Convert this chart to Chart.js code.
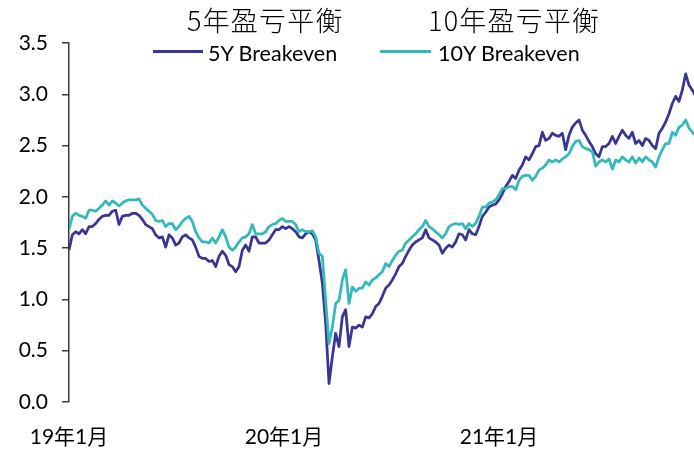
<!DOCTYPE html>
<html>
<head>
<meta charset="utf-8">
<script src="https://cdn.jsdelivr.net/npm/chart.js@4.4.1/dist/chart.umd.min.js"></script>
<style>
  html, body { margin: 0; padding: 0; background: #fff; }
  #wrap { position: relative; width: 694px; height: 452px; overflow: hidden; }
  #wrap canvas { position: absolute; left: 0; top: 0; }
  .cn { position: absolute; top: 5px; font-family: "Noto Sans CJK SC"; font-weight: 300; font-size: 27px; line-height: 30px; letter-spacing: 1.2px; color: #000; white-space: nowrap; }
  .lg { position: absolute; top: 40px; font-family: Lato, "Noto Sans"; font-size: 21.5px; line-height: 26px; color: #000; white-space: nowrap; }
  .sw { position: absolute; height: 3px; }
</style>
</head>
<body>
<div id="wrap">
  <canvas id="c" width="694" height="452"></canvas>
</div>
<script>
// ---- data ----
const startYear = 2019;
const samplesPerYear = 64.5;            // equally spaced samples (~5.7 days apart)
const xTickLabels = ['19年1月', '20年1月', '21年1月'];
const seriesNames = ['5Y Breakeven', '10Y Breakeven'];
const seriesNamesCn = ['5年盈亏平衡', '10年盈亏平衡'];
const seriesColors = ['#393594', '#33B9BA'];

const be5y = [
  1.48,1.63,1.66,1.64,1.68,1.64,1.71,1.71,1.74,1.78,1.81,1.82,1.82,1.86,1.87,1.73,1.81,1.82,1.82,1.84,
  1.84,1.82,1.78,1.73,1.71,1.69,1.63,1.60,1.61,1.51,1.63,1.60,1.53,1.55,1.61,1.63,1.60,1.58,1.51,1.42,
  1.40,1.40,1.37,1.38,1.32,1.42,1.47,1.43,1.34,
  1.32,1.27,1.32,1.48,1.53,1.47,1.61,1.61,1.55,1.55,1.55,1.58,1.63,1.68,1.68,1.71,1.69,1.71,1.69,1.66,
  1.61,1.60,1.64,1.66,1.64,1.58,1.38,1.16,0.77,0.18,0.44,0.67,0.54,0.83,0.90,0.54,0.73,0.72,0.75,0.73,
  0.83,0.82,0.86,0.93,0.96,1.03,1.11,1.14,
  1.19,1.25,1.32,1.35,1.42,1.48,1.53,1.56,1.58,1.60,1.68,1.60,1.58,1.56,1.53,1.45,1.50,1.53,1.51,1.56,
  1.64,1.63,1.58,1.68,1.64,1.63,1.71,1.81,1.85,1.90,1.92,1.93,1.97,2.03,2.10,2.15,2.21,2.18,2.26,2.31,
  2.39,2.36,2.42,2.49,2.50,2.63,2.55,2.57,
  2.62,2.60,2.59,2.62,2.46,2.60,2.68,2.72,2.75,2.65,2.60,2.54,2.49,2.42,2.39,2.49,2.49,2.52,2.59,2.52,
  2.59,2.65,2.60,2.57,2.63,2.52,2.55,2.50,2.57,2.55,2.50,2.47,2.62,2.67,2.73,2.81,2.91,2.98,2.93,3.04,
  3.20,3.09,3.04,2.98
];

const be10y = [
  1.68,1.81,1.84,1.82,1.81,1.79,1.87,1.87,1.86,1.89,1.92,1.96,1.92,1.96,1.94,1.91,1.94,1.96,1.97,1.97,
  1.97,1.98,1.92,1.89,1.86,1.83,1.77,1.76,1.77,1.71,1.74,1.74,1.68,1.71,1.76,1.79,1.81,1.76,1.66,1.60,
  1.56,1.56,1.55,1.60,1.55,1.61,1.68,1.61,1.51,
  1.48,1.51,1.56,1.60,1.61,1.64,1.73,1.64,1.64,1.64,1.66,1.71,1.73,1.74,1.77,1.79,1.76,1.76,1.76,1.73,
  1.66,1.68,1.66,1.66,1.67,1.61,1.45,1.42,0.99,0.57,0.73,0.96,0.99,1.19,1.29,0.96,1.12,1.08,1.11,1.11,
  1.17,1.14,1.19,1.21,1.24,1.27,1.35,1.32,
  1.38,1.43,1.47,1.48,1.55,1.58,1.61,1.64,1.68,1.71,1.77,1.71,1.69,1.66,1.63,1.60,1.64,1.71,1.73,1.74,
  1.73,1.74,1.69,1.74,1.71,1.74,1.81,1.90,1.90,1.94,1.95,1.97,2.02,2.08,2.08,2.10,2.10,2.07,2.16,2.20,
  2.21,2.21,2.16,2.20,2.26,2.28,2.31,2.36,
  2.34,2.36,2.34,2.37,2.39,2.42,2.49,2.54,2.55,2.49,2.47,2.46,2.44,2.30,2.34,2.36,2.34,2.37,2.27,2.36,
  2.34,2.39,2.36,2.34,2.39,2.33,2.38,2.34,2.39,2.36,2.34,2.29,2.39,2.46,2.52,2.52,2.63,2.60,2.68,2.70,
  2.75,2.67,2.63,2.60
];

const yTickMin = 0, yTickMax = 3.5, yTickStep = 0.5;

// ---- legend (HTML text) ----
const wrap = document.getElementById('wrap');
const legendLayout = [
  { cnLeft: 187, swLeft: 153, swTop: 50, swWidth: 50, txtLeft: 208 },
  { cnLeft: 428, swLeft: 380, swTop: 50, swWidth: 51, txtLeft: 438 }
];
legendLayout.forEach((p, i) => {
  const cn = document.createElement('div');
  cn.className = 'cn'; cn.style.left = p.cnLeft + 'px'; cn.textContent = seriesNamesCn[i];
  wrap.appendChild(cn);
  const sw = document.createElement('div');
  sw.className = 'sw'; sw.style.left = p.swLeft + 'px'; sw.style.top = p.swTop + 'px';
  sw.style.width = p.swWidth + 'px'; sw.style.background = seriesColors[i];
  wrap.appendChild(sw);
  const t = document.createElement('div');
  t.className = 'lg'; t.style.left = p.txtLeft + 'px'; t.textContent = seriesNames[i];
  wrap.appendChild(t);
});

// ---- chart ----
const toPoints = arr => arr.map((v, i) => ({ x: startYear + i / samplesPerYear, y: v }));
const xMax = startYear + (be5y.length - 1.5) / samplesPerYear;
const axisColor = '#3a3a3a';
const tickFont = { family: 'Lato, "Noto Sans CJK SC"', size: 21 };

new Chart(document.getElementById('c'), {
  type: 'line',
  data: {
    datasets: [
      { label: seriesNames[0], data: toPoints(be5y), borderColor: seriesColors[0], backgroundColor: seriesColors[0],
        borderWidth: 2.75, pointRadius: 0, tension: 0, order: 1, borderJoinStyle: 'round' },
      { label: seriesNames[1], data: toPoints(be10y), borderColor: seriesColors[1], backgroundColor: seriesColors[1],
        borderWidth: 2.75, pointRadius: 0, tension: 0, order: 0, borderJoinStyle: 'round' }
    ]
  },
  options: {
    responsive: false,
    animation: false,
    devicePixelRatio: 1,
    layout: { padding: { top: 43, left: 0, right: 0, bottom: 0 } },
    plugins: { legend: { display: false }, tooltip: { enabled: false } },
    scales: {
      x: {
        type: 'linear',
        min: startYear,
        max: xMax,
        grid: { display: false, drawTicks: false },
        border: { display: false },
        ticks: {
          stepSize: 1,
          includeBounds: false,
          autoSkip: false,
          maxRotation: 0,
          padding: 23,
          color: '#000',
          font: tickFont,
          callback: v => {
            const idx = Math.round(v) - startYear;
            return (Math.abs(v - Math.round(v)) < 1e-6 && xTickLabels[idx]) ? xTickLabels[idx] : '';
          }
        },
        afterFit: s => { s.height = 50; }
      },
      y: {
        min: yTickMin,
        max: yTickMax,
        grid: { display: true, drawOnChartArea: false, drawTicks: true, tickLength: 7, color: axisColor, lineWidth: 1.5 },
        border: { display: true, color: axisColor, width: 1.5 },
        ticks: {
          stepSize: yTickStep,
          padding: 14,
          color: '#000',
          font: tickFont,
          callback: v => Number(v).toFixed(1)
        },
        afterFit: s => { s.width = 69; }
      }
    }
  }
});
</script>
</body>
</html>
